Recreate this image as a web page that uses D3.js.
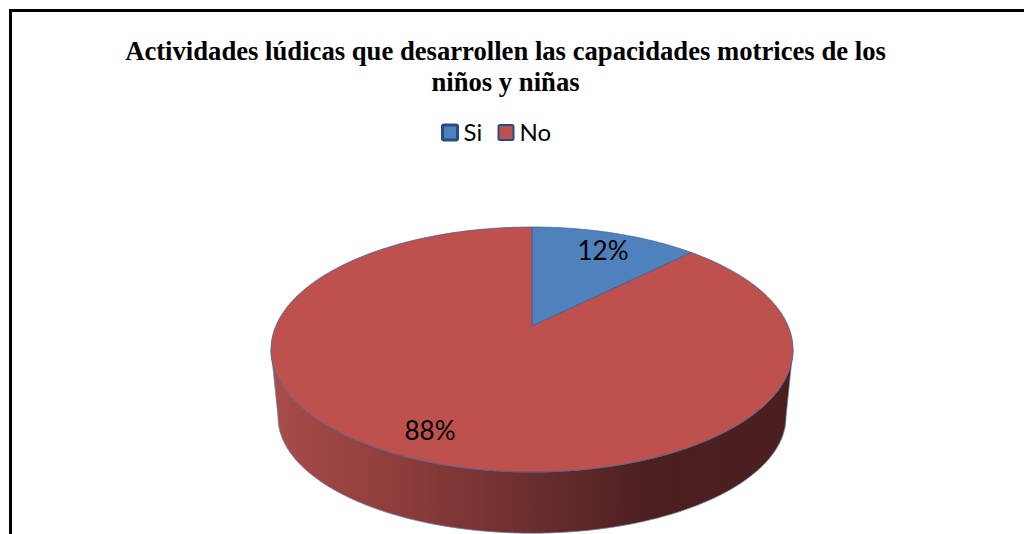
<!DOCTYPE html>
<html>
<head>
<meta charset="utf-8">
<script src="https://cdn.jsdelivr.net/npm/d3@7"></script>
<style>
  html, body { margin: 0; padding: 0; background: #fff; overflow: hidden; }
</style>
</head>
<body>
<div id="canvas"></div>
<script>
"use strict";

/* Data. The red/blue split measures a little over 12 %,
   the printed labels stay as they are in the chart. */
let categories = ["Si", "No"];
let values = [12.5, 87.5];
let valueLabels = ["12%", "88%"];
let titleLines = [
  "Actividades lúdicas que desarrollen las capacidades motrices de los",
  "niños y niñas"
];

/* Configuration */
let svgWidth = 1024;
let svgHeight = 534;
let sansFont = "Lato, 'Open Sans', sans-serif";
let serifFont = "'Liberation Serif', serif";

let svg = d3.select("#canvas")
  .append("svg")
  .attr("width", svgWidth)
  .attr("height", svgHeight)
  .style("display", "block");

let color = d3.scaleOrdinal()
  .domain(categories)
  .range(["#4f81bd", "#be504d"]);

/* Chart border, its right and bottom sides run off the picture */
svg.append("rect")
  .attr("x", 10.5)
  .attr("y", 10.5)
  .attr("width", 1040)
  .attr("height", 600)
  .attr("fill", "none")
  .attr("stroke", "black")
  .attr("stroke-width", 3);

/* Title */
svg.selectAll("text.title")
  .data(titleLines)
  .join("text")
  .attr("class", "title")
  .attr("x", 505.5)
  .attr("y", function (d, i) { return 60 + i * 31; })
  .attr("text-anchor", "middle")
  .attr("font-family", serifFont)
  .attr("font-weight", "bold")
  .attr("font-size", 26.67)
  .attr("fill", "black")
  .text(function (d) { return d; });

/* Legend */
let legendX = d3.scaleOrdinal()
  .domain(categories)
  .range([442.5, 498.5]);

let legend = svg.selectAll("g.legendItem")
  .data(categories)
  .join("g")
  .attr("class", "legendItem")
  .attr("transform", function (d) { return "translate(" + legendX(d) + ",125)"; });

legend.append("rect")
  .attr("width", 15)
  .attr("height", 15)
  .attr("rx", 1.5)
  .attr("fill", function (d) { return color(d); })
  .attr("stroke", "#234e82")
  .attr("stroke-width", function (d) { return d === "Si" ? 3 : 2; });

legend.append("text")
  .attr("x", 21)
  .attr("y", 16)
  .attr("font-family", sansFont)
  .attr("font-size", 24)
  .attr("fill", "black")
  .text(function (d) { return d; });

/* Perspective view of the pie: the top is a circle seen at a slant, so
   its middle (the tip of the slices) sits above the middle of the ellipse. */
let pieCx = 532;
let topY = 227;
let tipY = 326;
let frontY = 472;
let radiusX = 261;

let tilt = (2 * tipY - topY - frontY) / (frontY - topY);
let slope = frontY + frontY * tilt - tipY;
let widthK = radiusX * Math.sqrt(1 - tilt * tilt);

/* angle is clockwise from twelve o'clock, r from 0 to 1 */
function project(angle, r) {
  let u = r * Math.sin(angle);
  let v = -r * Math.cos(angle);
  let w = 1 + tilt * v;
  return [pieCx + widthK * u / w, (slope * v + tipY) / w];
}

let pieData = d3.pie().sort(null)(values);

let lineGen = d3.line();

function slicePath(d) {
  let steps = d3.range(0, 181).map(function (i) {
    let a = d.startAngle + (d.endAngle - d.startAngle) * i / 180;
    return project(a, 1);
  });
  return lineGen([project(0, 0)].concat(steps)) + "Z";
}

/* Side wall, drawn as the ring between the rim and a narrower, lower rim */
let wallDrop = 67.5;
let wallNarrow = 254 / 261;
let rimCy = (topY + frontY) / 2;
let rimRy = (frontY - topY) / 2;

function rimPoint(t, rx, ry, cy) {
  return [pieCx + rx * Math.cos(t), cy + ry * Math.sin(t)];
}

let defs = svg.append("defs");
let wallGradient = defs.append("linearGradient")
  .attr("id", "wallShade")
  .attr("gradientUnits", "userSpaceOnUse")
  .attr("x1", 278)
  .attr("x2", 786)
  .attr("y1", 0)
  .attr("y2", 0);

wallGradient.selectAll("stop")
  .data([[0, "#a64c49"], [0.25, "#8c3c3a"], [0.5, "#6b2e2e"], [0.72, "#4d2020"], [1, "#4b1f1f"]])
  .join("stop")
  .attr("offset", function (d) { return d[0]; })
  .attr("stop-color", function (d) { return d[1]; });

let rimAngles = d3.range(0, 181).map(function (i) { return Math.PI * i / 180; });
let upperRim = rimAngles.map(function (t) { return rimPoint(t, radiusX, rimRy, rimCy); });
let lowerRim = rimAngles.slice().reverse().map(function (t) {
  return rimPoint(t, radiusX * wallNarrow, rimRy * wallNarrow - 3, rimCy + wallDrop);
});

svg.append("path")
  .attr("d", lineGen(upperRim.concat(lowerRim)) + "Z")
  .attr("fill", "url(#wallShade)")
  .attr("stroke", "#6f86ad")
  .attr("stroke-width", 0.75);

/* Slices */
svg.selectAll("path.slice")
  .data(pieData)
  .join("path")
  .attr("class", "slice")
  .attr("d", slicePath)
  .attr("fill", function (d, i) { return color(categories[i]); })
  .attr("stroke", "#3f5f94")
  .attr("stroke-width", 0.75)
  .attr("stroke-linejoin", "round");

/* Value labels */
let labelX = [603, 430];
let labelY = [260, 440];

svg.selectAll("text.valueLabel")
  .data(valueLabels)
  .join("text")
  .attr("class", "valueLabel")
  .attr("x", function (d, i) { return labelX[i]; })
  .attr("y", function (d, i) { return labelY[i]; })
  .attr("text-anchor", "middle")
  .attr("font-family", sansFont)
  .attr("font-size", 26)
  .attr("fill", "black")
  .text(function (d) { return d; });
</script>
</body>
</html>
